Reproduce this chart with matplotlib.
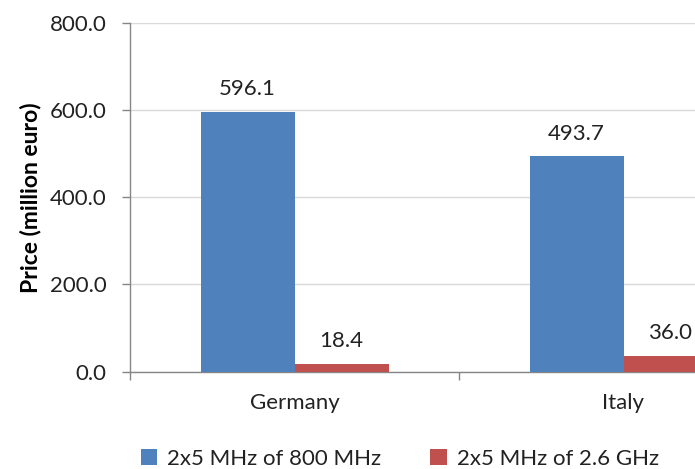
import matplotlib
matplotlib.use("Agg")
import matplotlib.pyplot as plt
import numpy as np

countries = ["Germany", "Italy"]
series_names = ["2x5 MHz of 800 MHz", "2x5 MHz of 2.6 GHz"]
price_800 = [596.1, 493.7]
price_2600 = [18.4, 36.0]
y_ticks = [0, 200, 400, 600, 800]

blue = "#4F81BD"
red = "#C0504D"
fs = 16

plt.rcParams["font.family"] = ["Lato", "DejaVu Sans"]

fig = plt.figure(figsize=(6.95, 4.69), dpi=100)
# the plot area runs past the right edge of the figure
ax = fig.add_axes([130 / 695, 1 - 371.7 / 469, 658 / 695, 349 / 469])

x = np.arange(len(countries))
w = 1 / 3.5
b1 = ax.bar(x - w / 2, price_800, width=w, color=blue, label=series_names[0], zorder=3)
b2 = ax.bar(x + w / 2, price_2600, width=w, color=red, label=series_names[1], zorder=3)

for bars, vals in ((b1, price_800), (b2, price_2600)):
    for r, v in zip(bars, vals):
        ax.annotate(f"{v:.1f}", (r.get_x() + r.get_width() / 2, v),
                    xytext=(0, 9), textcoords="offset points",
                    ha="center", va="bottom", fontsize=fs, color="#222222")

ax.set_xlim(-0.5, len(countries) - 0.5)
ax.set_ylim(0, 800)
ax.set_yticks(y_ticks)
ax.set_yticklabels([f"{t:.1f}" for t in y_ticks])
ax.yaxis.grid(True, color="#D9D9D9", linewidth=1, zorder=0)

# category labels centred, tick marks on category boundaries
ax.set_xticks(np.arange(-0.5, len(countries) + 0.5, 1.0))
ax.set_xticklabels([])
ax.set_xticks(x, minor=True)
ax.set_xticklabels(countries, minor=True)
ax.tick_params(axis="x", which="minor", length=0, pad=15, labelsize=fs, labelcolor="#222222")
ax.tick_params(axis="x", which="major", length=6, color="#868686", width=1)
ax.tick_params(axis="y", length=6, color="#868686", width=1, labelsize=fs, pad=11,
               labelcolor="#222222")

for s in ("top", "right"):
    ax.spines[s].set_visible(False)
for s in ("left", "bottom"):
    ax.spines[s].set_color("#868686")
    ax.spines[s].set_linewidth(1)

ax.set_ylabel("Price (million euro)", fontsize=16.5, fontweight="bold", labelpad=6)

fig.legend(handles=[b1, b2], labels=series_names, loc="center",
           bbox_to_anchor=(400 / 695, 1 - 459 / 469), ncol=2, frameon=False,
           fontsize=fs, handlelength=0.75, handleheight=0.75, columnspacing=2.2,
           handletextpad=0.45, labelcolor="#222222")

fig.savefig("out.png", dpi=100)
